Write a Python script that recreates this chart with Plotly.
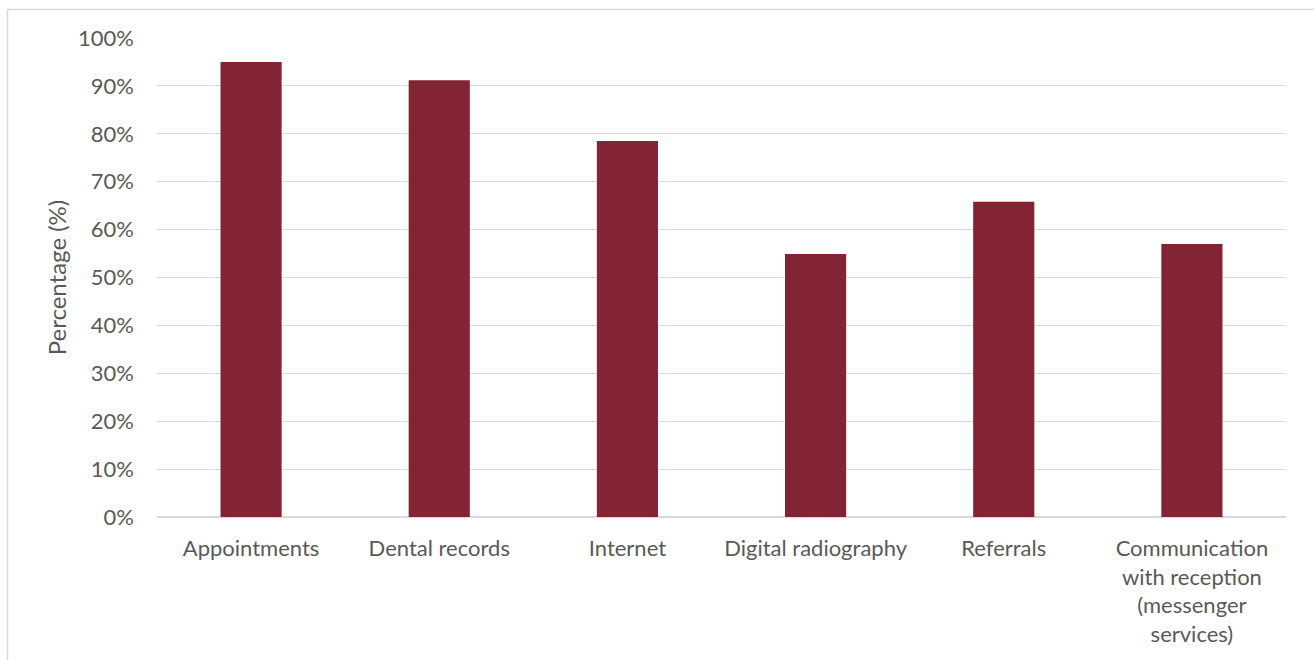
import plotly.graph_objects as go

categories = ["Appointments", "Dental records", "Internet", "Digital radiography",
              "Referrals", "Communication<br>with reception<br>(messenger<br>services)"]
values = [95.0, 91.2, 78.5, 54.9, 65.8, 57.0]
tick_vals = [0, 10, 20, 30, 40, 50, 60, 70, 80, 90, 100]
tick_text = [f"{v}%" for v in tick_vals]

W, H = 1314, 660
ml, mr, mt, mb = 157, 28, 38, 143

fig = go.Figure(go.Bar(x=categories, y=values, marker=dict(color="#822433", line=dict(width=0))))

pw = W - ml - mr
ph = H - mt - mb
def px(x):
    return (x - ml) / pw
def py(y):
    return (H - mb - y) / ph

FONT = "Lato"
fig.update_layout(
    width=W, height=H,
    margin=dict(l=ml, r=mr, t=mt, b=mb),
    plot_bgcolor="white", paper_bgcolor="white",
    bargap=0.675,
    showlegend=False,
    font=dict(family=FONT, color="#595959", size=22),
    xaxis=dict(showline=False, ticks="", tickfont=dict(family=FONT, size=22, color="#595959"), ticklabelstandoff=16),
    yaxis=dict(range=[0, 100], tickvals=tick_vals, ticktext=tick_text, showgrid=True,
               gridcolor="#d9d9d9", gridwidth=1, zeroline=True, zerolinecolor="#d9d9d9",
               zerolinewidth=1.5, ticks="", tickfont=dict(family=FONT, size=22, color="#595959"),
               ticklabelstandoff=22,
               title=dict(text="Percentage (%)", font=dict(family=FONT, size=24, color="#595959"), standoff=4)),
    shapes=[dict(type="rect", xref="paper", yref="paper",
                 x0=px(7.5), x1=px(1330), y0=py(9.5), y1=py(700),
                 line=dict(color="#d9d9d9", width=1.5), fillcolor="rgba(0,0,0,0)", layer="below")],
)
fig.write_html("out.html")
